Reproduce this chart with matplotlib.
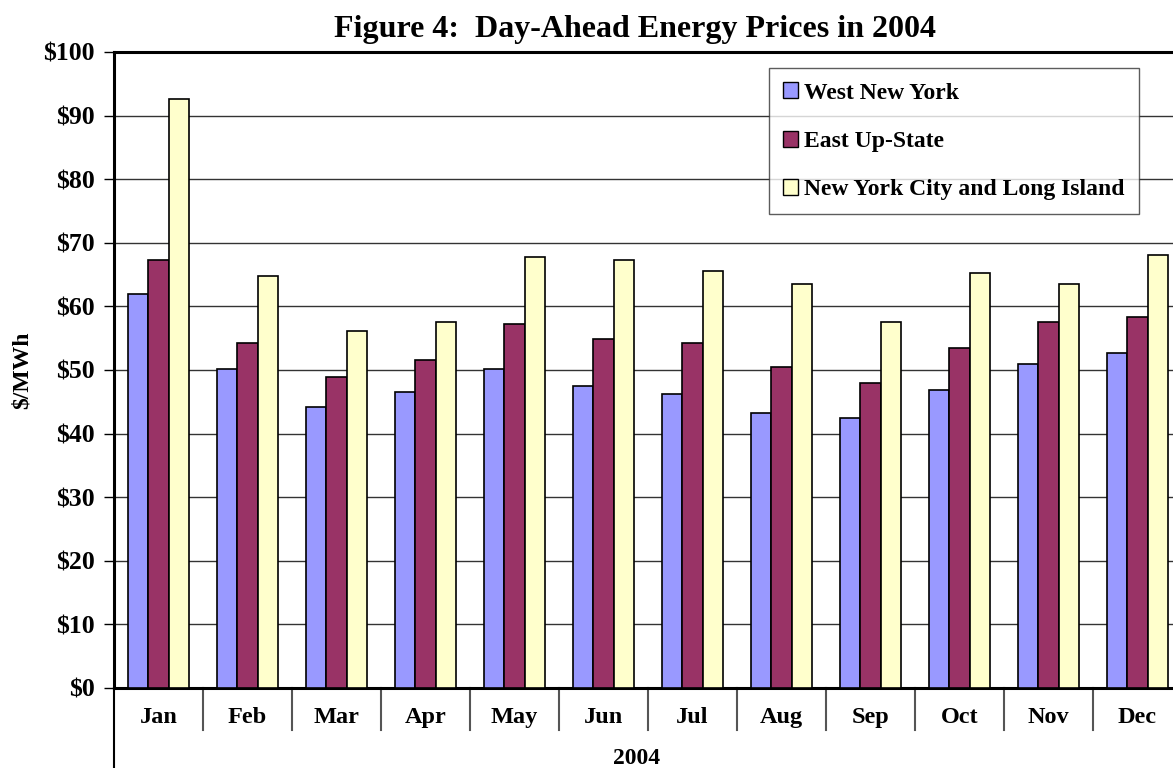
import matplotlib
matplotlib.use("Agg")
import matplotlib.pyplot as plt
import matplotlib.transforms as mtransforms
import numpy as np

months = ["Jan", "Feb", "Mar", "Apr", "May", "Jun", "Jul", "Aug", "Sep", "Oct", "Nov", "Dec"]
west_ny = [62.0, 50.1, 44.2, 46.6, 50.1, 47.5, 46.3, 43.2, 42.5, 46.9, 51.0, 52.7]
east_upstate = [67.3, 54.3, 48.9, 51.5, 57.2, 54.8, 54.2, 50.4, 47.9, 53.5, 57.5, 58.3]
nyc_li = [92.6, 64.8, 56.1, 57.6, 67.7, 67.3, 65.6, 63.6, 57.5, 65.3, 63.6, 68.1]
series_names = ["West New York", "East Up-State", "New York City and Long Island"]
y_ticks = [0, 10, 20, 30, 40, 50, 60, 70, 80, 90, 100]
y_tick_labels = ["$0", "$10", "$20", "$30", "$40", "$50", "$60", "$70", "$80", "$90", "$100"]
year_label = "2004"

colors = ["#9999FF", "#993366", "#FFFFCC"]

plt.rcParams["font.family"] = ["Liberation Serif", "DejaVu Serif"]
plt.rcParams["font.weight"] = "bold"

fig = plt.figure(figsize=(11.73, 7.68), dpi=100)
W, H = 1173, 768
x0, x1 = 114, 1182
y0, y1 = 688, 52
ax = fig.add_axes([x0 / W, 1 - y0 / H, (x1 - x0) / W, (y0 - y1) / H])

x = np.arange(len(months))
bw = 0.225
for i, (vals, name) in enumerate(zip([west_ny, east_upstate, nyc_li], series_names)):
    ax.bar(x + (i - 1) * bw, vals, width=bw, color=colors[i], edgecolor="black",
           linewidth=1.2, label=name, zorder=3)

ax.set_xlim(-0.5, len(months) - 0.5)
ax.set_ylim(0, 100)
ax.set_yticks(y_ticks)
ax.set_yticklabels(y_tick_labels, fontsize=18.5, fontweight="bold")
ax.tick_params(axis="y", direction="out", length=7, width=1, pad=7)
ax.yaxis.grid(True, color="#333333", linewidth=1.0, zorder=0)
ax.set_axisbelow(True)

ax.set_xticks(x)
ax.set_xticklabels(months, fontsize=17.5, fontweight="bold")
ax.tick_params(axis="x", length=0, pad=14)

for side in ["left", "bottom", "top"]:
    ax.spines[side].set_linewidth(2.2)
    ax.spines[side].set_color("black")
ax.spines["right"].set_visible(False)

# category separators below axis
trans = mtransforms.blended_transform_factory(ax.transData, ax.transAxes)
sep_depth = (730 - 688) / (y0 - y1)
for k in range(1, len(months) + 1):
    ax.plot([k - 0.5, k - 0.5], [0, -sep_depth], transform=trans, color="#555555",
            linewidth=1.5, clip_on=False, zorder=1)
# left line extends to bottom
ax.plot([-0.5, -0.5], [0, -(768 - 688) / (y0 - y1)], transform=trans, color="black",
        linewidth=1.5, clip_on=False)

ax.text((637 - x0) / (x1 - x0), -(759 - 688) / (y0 - y1), year_label,
        transform=ax.transAxes, ha="center", va="center", fontsize=17, fontweight="bold")

fig.text(22 / W, 1 - 370 / H, "$/MWh", rotation=90, ha="center", va="center",
         fontsize=17, fontweight="bold")

fig.text(635 / W, 1 - 29 / H, "Figure 4:  Day-Ahead Energy Prices in 2004",
         ha="center", va="center", fontsize=23, fontweight="bold")

leg = ax.legend(loc="upper right", bbox_to_anchor=((1139 - x0) / (x1 - x0), (688 - 68.3) / (y0 - y1)),
                borderaxespad=0, fancybox=False, frameon=True, edgecolor="#333333",
                prop={"size": 17, "weight": "bold"}, handlelength=0.65, handleheight=0.65,
                handletextpad=0.25, labelspacing=1.15, borderpad=0.6)
leg.get_frame().set_linewidth(1.0)
for h in leg.legend_handles:
    h.set_linewidth(1.0)
leg.set_zorder(5)

fig.savefig("out.png", dpi=100)
